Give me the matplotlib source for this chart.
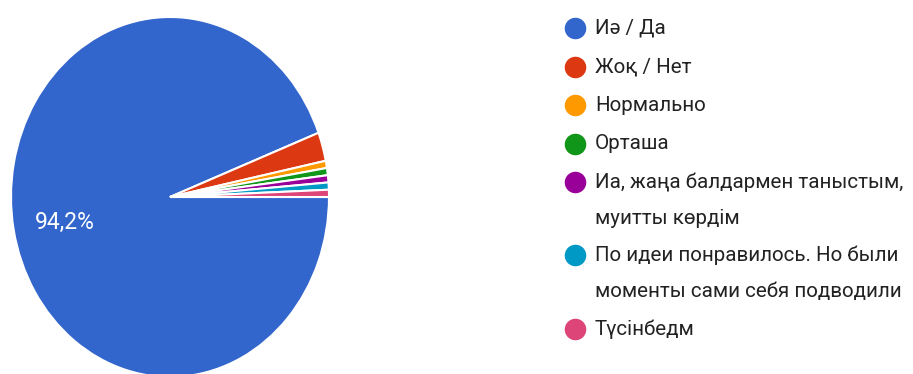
import matplotlib
matplotlib.use('Agg')
import matplotlib.pyplot as plt

# responses per answer (155 total)
labels = ["Иә / Да", "Жоқ / Нет", "Нормально", "Орташа",
          "Иа, жаңа балдармен таныстым,\nмуитты көрдім",
          "По идеи понравилось. Но были\nмоменты сами себя подводили",
          "Түсінбедм"]
counts = [146, 4, 1, 1, 1, 1, 1]
colors = ["#3366cc", "#dc3912", "#ff9900", "#109618",
          "#990099", "#0099c6", "#dd4477"]

plt.rcParams['font.family'] = ['Roboto', 'DejaVu Sans']

W, H = 913, 374
fig = plt.figure(figsize=(W / 100, H / 100), dpi=100)

# pie is drawn slightly stretched vertically, like the original export
cx, cy, rx, ry = 170, 197, 159, 180
ax = fig.add_axes([(cx - rx) / W, (H - cy - ry) / H, 2 * rx / W, 2 * ry / H])
total = sum(counts)
wedges, texts = ax.pie(counts, colors=colors, startangle=0, counterclock=False,
                       wedgeprops=dict(edgecolor='white', linewidth=1.5))
ax.set_aspect('auto')
ax.set_xlim(-1, 1)
ax.set_ylim(-1, 1)
ax.axis('off')

pct = counts[0] / total * 100
ax.text(-0.66, -0.14, f"{pct:.1f}%".replace('.', ','), color='white',
        fontsize=16.5, ha='center', va='center')

# legend drawn in pixel coordinates
lg = fig.add_axes([0, 0, 1, 1])
lg.set_xlim(0, W)
lg.set_ylim(H, 0)
lg.axis('off')
rows = [28, 66.5, 105, 143.5, 182, 255, 329]
for y, lab, c in zip(rows, labels, colors):
    lg.plot(575, y, 'o', ms=14.5, color=c, mec=c)
    for i, line in enumerate(lab.split('\n')):
        lg.text(595, y + i * 36.5, line, fontsize=14.8, color='#222222', va='center')

fig.savefig('out.png', dpi=100)
